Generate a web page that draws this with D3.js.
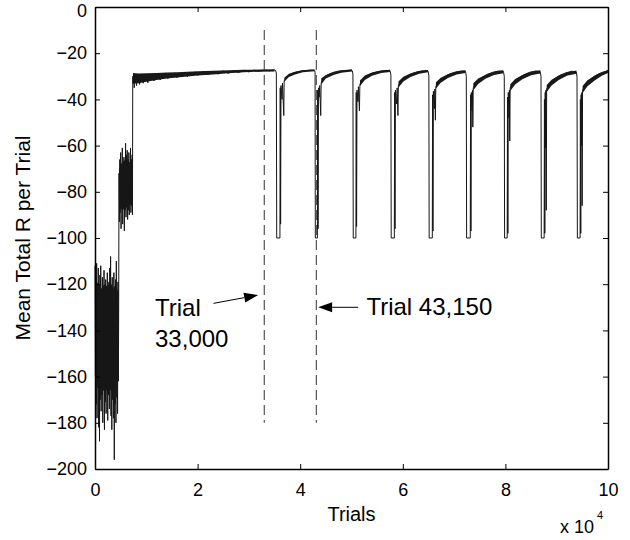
<!DOCTYPE html>
<html lang="en">
<head>
<meta charset="UTF-8">
<script src="https://cdn.jsdelivr.net/npm/d3@7"></script>
<style>
  body { margin: 0; background: #fff; }
  svg { display: block; font-family: "Liberation Sans", Arial, sans-serif; }
  .tick text { font-size: 18px; fill: #000; }
  .domain { stroke: #000; stroke-width: 1.5; }
  .tick line { stroke: #000; stroke-width: 1; }
</style>
</head>
<body>
<div id="chart"></div>
<script>
// ---- data ----
const xTicks = [0, 20000, 40000, 60000, 80000, 100000];
const xTickLabels = ["0", "2", "4", "6", "8", "10"];
const yTicks = [0, -20, -40, -60, -80, -100, -120, -140, -160, -180, -200];

// early, very noisy learning phase [trial, mean R]
const earlyTrace = [
  [0,-112],[80,-160],[160,-118],[240,-172],[320,-111],[400,-178],[480,-124],[560,-165],
  [640,-113],[720,-182],[800,-120],[880,-188],[960,-116],[1040,-170],[1120,-112],[1200,-175],
  [1280,-125],[1360,-168],[1440,-117],[1520,-180],[1600,-121],[1680,-166],[1760,-114],[1840,-183],
  [1920,-126],[2000,-171],[2080,-118],[2160,-176],[2240,-123],[2320,-164],[2400,-115],[2480,-179],
  [2560,-127],[2640,-168],[2720,-119],[2800,-174],[2880,-113],[2960,-166],[3040,-108],[3120,-177],
  [3200,-124],[3280,-183],[3360,-117],[3440,-170],[3520,-122],[3600,-178],[3680,-115],[3760,-196],
  [3840,-121],[3920,-172],[4000,-118],[4080,-180],[4160,-110],[4240,-169],[4320,-123],[4400,-176],
  [4480,-119],[4560,-162],[4620,-128],[4680,-72],
  [4760,-93],[4840,-66],[4920,-89],[5000,-63],[5080,-96],[5160,-68],[5240,-86],[5320,-61],
  [5400,-94],[5480,-70],[5560,-87],[5640,-65],[5720,-97],[5800,-67],[5880,-88],[5960,-59],
  [6040,-91],[6120,-64],[6200,-85],[6280,-62],[6360,-92],[6440,-66],[6520,-88],[6600,-63],
  [6680,-90],[6760,-68],[6840,-84],[6920,-61],[7000,-89],[7080,-66],[7160,-86],[7240,-64],
  [7300,-90],[7360,-30]
];

// first plateau up to the first drop
const plateauTrace = [
  [7450,-33],[7550,-29],[7650,-35],[7750,-30],[7850,-32.5],[7950,-29.2],[8100,-34],[8250,-29.5],
  [8400,-32],[8550,-29],[8700,-33.5],[8850,-29.6],[9000,-31.8],[9200,-29.2],[9400,-33],[9600,-29.4],
  [9800,-31.5],[10000,-29],[10300,-32.8],[10600,-29.3],[10900,-31.2],[11200,-28.9],[11500,-32],
  [11800,-29.2],[12100,-31],[12400,-28.8],[12700,-31.6],[13000,-29],[13400,-30.8],[13800,-28.7],
  [14200,-31],[14600,-28.8],[15000,-30.4],[15500,-28.5],[16000,-30.6],[16500,-28.6],[17000,-30],
  [17500,-28.3],[18000,-30.2],[18500,-28.4],[19000,-29.8],[19500,-28.1],[20000,-29.6],[21000,-28],
  [22000,-29.3],[23000,-27.9],[24000,-29],[25000,-27.7],[26000,-28.7],[27000,-27.6],[28000,-28.4],
  [29000,-27.4],[30000,-28.1],[31000,-27.3],[32000,-27.8],[33000,-27.3],[34000,-27.6],[35000,-27.3]
];

// the nine drops to -100 and the recoveries after them
const cycleTraces = [
  [[35200,-27.5],[35350,-28.6],[35420,-100],[36050,-100],[36110,-35],[36180,-94],[36260,-34],[36450,-40],
   [36550,-33],[36800,-47],[36870,-32],[37100,-31.2],[37500,-30.4],[38000,-29.3],[38600,-28.6],[39500,-28],
   [40500,-27.6],[42000,-27.3],[42800,-27.4]],
  [[42900,-28.2],[42950,-100],[43350,-100],[43410,-36],[43480,-96],[43560,-35],[43700,-39],[43800,-34],
   [44000,-47],[44080,-33],[44400,-31.5],[44900,-30.2],[45500,-29.2],[46300,-28.4],[47300,-27.8],
   [48500,-27.5],[50000,-27.3]],
  [[50150,-27.6],[50280,-29],[50340,-100],[50860,-100],[50920,-37],[50990,-95],[51070,-36],[51250,-41],
   [51350,-34.5],[51550,-45],[51630,-33.5],[52000,-32],[52600,-30.5],[53300,-29.4],[54200,-28.5],
   [55300,-27.9],[56500,-27.5],[57500,-27.5]],
  [[57550,-27.8],[57680,-29.5],[57740,-100],[58350,-100],[58410,-37],[58480,-96],[58560,-36],[58800,-42],
   [58900,-35],[59050,-47],[59130,-34],[59500,-32.5],[60100,-31],[60900,-29.8],[61800,-28.8],[62900,-28],
   [64000,-27.6],[64900,-27.6]],
  [[64950,-28],[65080,-29.8],[65140,-100],[65750,-100],[65810,-38],[65880,-97],[65960,-36.5],[66150,-44],
   [66250,-35.5],[66350,-49],[66430,-34.5],[66800,-33],[67400,-31.4],[68200,-30.1],[69100,-29],
   [70200,-28.2],[71400,-27.7],[72200,-27.8]],
  [[72250,-28.2],[72380,-30],[72440,-100],[73150,-100],[73210,-38],[73280,-97],[73360,-37],[73500,-45],
   [73580,-36],[73650,-52],[73730,-35],[74100,-33.4],[74700,-31.8],[75500,-30.4],[76400,-29.2],
   [77500,-28.3],[78700,-27.7],[79600,-27.9]],
  [[79650,-28.4],[79780,-30],[79840,-100],[80350,-100],[80410,-39],[80480,-98],[80560,-37],[80700,-48],
   [80780,-36],[80850,-58],[80930,-35],[81300,-33.6],[81900,-32],[82700,-30.5],[83600,-29.3],
   [84700,-28.3],[85900,-27.7],[86800,-28]],
  [[86830,-28.5],[86940,-30.2],[87000,-100],[87550,-100],[87610,-40],[87680,-98],[87760,-37],[87850,-61],
   [87900,-36],[87960,-88],[88040,-35.5],[88400,-34],[89000,-32.3],[89800,-30.8],[90700,-29.5],
   [91800,-28.5],[93000,-27.8],[93850,-28.2]],
  [[93960,-30.4],[94030,-100],[94560,-100],[94620,-40],[94690,-98],[94760,-38],[94850,-60],[94900,-37],
   [94960,-86],[95040,-36],[95400,-34.5],[96000,-32.5],[96800,-30.8],[97700,-29.5],[98700,-28.4],
   [100000,-27.6]]
];

// solid core of the noise in the early phase [trial, upper, lower]
const earlyBand = [
  [0,-121,-158],[600,-119,-164],[1200,-122,-166],[1800,-120,-163],[2400,-121,-167],
  [3000,-119,-165],[3600,-122,-168],[4200,-121,-162],[4600,-124,-160]
];
const secondBand = [
  [4700,-70,-86],[5300,-67,-88],[6000,-66,-87],[6600,-67,-86],[7300,-68,-85]
];
// thickness of the noisy band on the plateaus [trial, upper, lower]
const plateauBand = [
  [7400,-28.6,-33.2],[8500,-28.8,-33],[10000,-28.7,-32.4],[12000,-28.6,-31.6],[14000,-28.4,-31],
  [16000,-28.2,-30.5],[18000,-28,-30.1],[20000,-27.8,-29.7],[23000,-27.6,-29.2],[26000,-27.4,-28.7],
  [29000,-27.2,-28.3],[32000,-27.1,-28],[35000,-27,-27.9]
];
const cycleBands = [
  [[36900,-30.6,-32.4],[37800,-28.9,-30.3],[39000,-28,-29.2],[40500,-27.4,-28.2],[42800,-27.1,-27.8]],
  [[44100,-31,-33.5],[45000,-29.4,-31],[46500,-28.2,-29.4],[48000,-27.5,-28.5],[50100,-27.1,-27.9]],
  [[51650,-31.8,-34.3],[52600,-29.7,-31.6],[54000,-28.4,-29.8],[55800,-27.5,-28.6],[57500,-27.2,-28.1]],
  [[59150,-32.2,-35],[60100,-30.2,-32.2],[61500,-28.8,-30.3],[63200,-27.7,-28.9],[64900,-27.3,-28.3]],
  [[66450,-32.6,-35.4],[67400,-30.6,-32.8],[68800,-29.1,-30.7],[70500,-27.9,-29.2],[72200,-27.4,-28.6]],
  [[73750,-33,-36],[74700,-31,-33.3],[76100,-29.4,-31.1],[77800,-28,-29.4],[79600,-27.4,-28.7]],
  [[80950,-33.4,-36.4],[81900,-31.2,-33.6],[83300,-29.5,-31.3],[85000,-28,-29.5],[86800,-27.4,-28.8]],
  [[88050,-33.8,-36.8],[89000,-31.5,-34],[90400,-29.7,-31.6],[92100,-28.2,-29.6],[93850,-27.5,-28.9]],
  [[95050,-34.2,-37.2],[96000,-31.7,-34.3],[97400,-29.8,-31.8],[98800,-28.4,-29.8],[100000,-27.3,-28.6]]
];

// annotations
const markerTrials = [33000, 43150];
const markerRange = [-10, -180];
const noteLines = [["Trial", "33,000"], ["Trial 43,150"]];
const notePos = [[11700, -133.8], [52900, -133.3]];
const arrowFrom = [[23100, -128.3], [51300, -130]];
const arrowTo = [[31800, -124.7], [43500, -130]];

// ---- drawing ----
const W = 630, H = 540;
const margin = { top: 7, right: 22, bottom: 71, left: 95 };
const width = W - margin.left - margin.right;
const height = H - margin.top - margin.bottom;

const svg = d3.select("#chart").append("svg").attr("width", W).attr("height", H);
const g = svg.append("g").attr("transform", `translate(${margin.left},${margin.top})`);

const x = d3.scaleLinear().domain([0, 100000]).range([0, width]);
const y = d3.scaleLinear().domain([-200, 0]).range([height, 0]);

const series = earlyTrace.concat(plateauTrace, ...cycleTraces);

const area = d3.area().x(d => x(d[0])).y0(d => y(d[2])).y1(d => y(d[1]));
[earlyBand, secondBand, plateauBand, ...cycleBands].forEach(b => {
  g.append("path").attr("d", area(b)).attr("fill", "#1a1a1a");
});

const line = d3.line().x(d => x(d[0])).y(d => y(d[1]));
g.append("path").datum(series)
  .attr("fill", "none").attr("stroke", "#161616").attr("stroke-width", 1)
  .attr("d", line);

// dashed markers
markerTrials.forEach(t => {
  g.append("line")
    .attr("x1", x(t)).attr("x2", x(t))
    .attr("y1", y(markerRange[0])).attr("y2", y(markerRange[1]))
    .attr("stroke", "#555").attr("stroke-width", 1.2).attr("stroke-dasharray", "10,5");
});

// arrows
arrowFrom.forEach((f, i) => {
  const x1 = x(f[0]), y1 = y(f[1]), x2 = x(arrowTo[i][0]), y2 = y(arrowTo[i][1]);
  const ang = Math.atan2(y2 - y1, x2 - x1);
  const len = 14, hw = 5;
  const bx = x2 - len * Math.cos(ang), by = y2 - len * Math.sin(ang);
  g.append("line").attr("x1", x1).attr("y1", y1).attr("x2", bx).attr("y2", by)
    .attr("stroke", "#000").attr("stroke-width", 1);
  const pts = [[x2, y2],
    [bx + hw * Math.sin(ang), by - hw * Math.cos(ang)],
    [bx - hw * Math.sin(ang), by + hw * Math.cos(ang)]];
  g.append("path").attr("d", "M" + pts.join("L") + "Z").attr("fill", "#000");
});

// note texts
noteLines.forEach((lines, i) => {
  const t = g.append("text")
    .attr("x", x(notePos[i][0])).attr("y", y(notePos[i][1]))
    .attr("font-size", 24).attr("fill", "#000");
  lines.forEach((s, j) => {
    t.append("tspan").attr("x", x(notePos[i][0])).attr("dy", j === 0 ? 0 : 31).text(s);
  });
});

// axes (ticks inward on all four sides)
g.append("g").attr("transform", `translate(0,${height})`)
  .call(d3.axisBottom(x).tickValues(xTicks).tickSize(-5).tickSizeOuter(0).tickPadding(14)
    .tickFormat((d, i) => xTickLabels[i]));
g.append("g")
  .call(d3.axisTop(x).tickValues(xTicks).tickSize(-5).tickSizeOuter(0).tickFormat(""));
const yAxis = g.append("g")
  .call(d3.axisLeft(y).tickValues(yTicks).tickSize(-5).tickSizeOuter(0).tickPadding(8)
    .tickFormat(d => d < 0 ? "\u2212" + Math.abs(d) : d));
// the top label sits a little lower so it stays inside the page
yAxis.selectAll(".tick text").filter(d => d === 0).attr("dy", "0.55em");
g.append("g").attr("transform", `translate(${width},0)`)
  .call(d3.axisRight(y).tickValues(yTicks).tickSize(-5).tickSizeOuter(0).tickFormat(""));

// axis titles
svg.append("text")
  .attr("x", margin.left + width / 2).attr("y", 521)
  .attr("text-anchor", "middle").attr("font-size", 20).text("Trials");
svg.append("text")
  .attr("transform", `translate(30,${margin.top + height / 2}) rotate(-90)`)
  .attr("text-anchor", "middle").attr("font-size", 21).text("Mean Total R per Trial");

// exponent label
svg.append("text").attr("x", 594).attr("y", 533)
  .attr("text-anchor", "end").attr("font-size", 18).text("x 10");
svg.append("text").attr("x", 597).attr("y", 519).attr("font-size", 11).text("4");
</script>
</body>
</html>
